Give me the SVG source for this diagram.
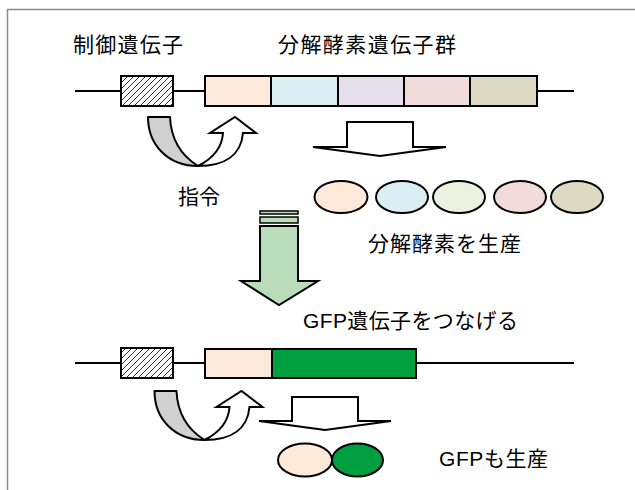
<svg xmlns="http://www.w3.org/2000/svg" width="635" height="490" viewBox="0 0 635 490">
<defs>
<pattern id="hatch" width="6" height="6" patternUnits="userSpaceOnUse">
<path d="M-1,1 L1,-1 M0,6 L6,0 M5,7 L7,5" stroke="#000" stroke-width="0.8"/>
</pattern>
<g id="curved">
<path d="M148,117 L170,117 C171,140 182,156 198,166 C168,166 148,145 148,117 Z" fill="#d0d0d0" stroke="#000" stroke-width="2" stroke-linejoin="round"/>
<path d="M198,166 C214,158 222,148 223,133 L210,133 L235,117 L256,133 L243,133 C241,155 225,166 198,166 Z" fill="#fff" stroke="#000" stroke-width="2" stroke-linejoin="miter"/>
</g>
</defs>
<style>
.t{font-family:"Liberation Sans","Noto Sans CJK JP",sans-serif;font-size:21px;fill:#000}
.ln{stroke:#000;stroke-width:2;fill:none}
.bx{stroke:#000;stroke-width:2}
.el{stroke:#000;stroke-width:2}
</style>
<rect width="635" height="490" fill="#fff"/>
<path d="M7.5,490 L7.5,9.5 L635,9.5" fill="none" stroke="#8c8c8c" stroke-width="1.5"/>

<g id="connectors">
<line class="ln" x1="75" y1="91" x2="121" y2="91"/>
<line class="ln" x1="173" y1="91" x2="205" y2="91"/>
<line class="ln" x1="537" y1="91" x2="574" y2="91"/>
<line class="ln" x1="75" y1="363" x2="121" y2="363"/>
<line class="ln" x1="173" y1="363" x2="205" y2="363"/>
<line class="ln" x1="416" y1="363" x2="574" y2="363"/>
</g>

<g id="top-control-gene">
<rect class="bx" x="121" y="76" width="52" height="30" fill="url(#hatch)"/>
<text class="t" x="73" y="52" textLength="110" lengthAdjust="spacing">制御遺伝子</text>
</g>
<g id="top-enzyme-genes">
<rect class="bx" x="205" y="76" width="66" height="30" fill="#fde9d9"/>
<rect class="bx" x="271" y="76" width="67" height="30" fill="#daeef3"/>
<rect class="bx" x="338" y="76" width="66" height="30" fill="#e5e0ec"/>
<rect class="bx" x="404" y="76" width="66" height="30" fill="#f2dcdb"/>
<rect class="bx" x="470" y="76" width="67" height="30" fill="#ddd9c3"/>
<text class="t" x="278" y="52" textLength="178" lengthAdjust="spacing">分解酵素遺伝子群</text>
</g>
<g id="top-instruction">
<use href="#curved"/>
<text class="t" x="178" y="204" textLength="42" lengthAdjust="spacing">指令</text>
</g>
<g id="top-produce-arrow">
<path d="M347,122 L413,122 L413,147 L446,147 L380,156 L313,147 L347,147 Z" fill="#fff" stroke="#000" stroke-width="2"/>
</g>
<g id="top-enzymes">
<ellipse class="el" cx="341" cy="197" rx="26.5" ry="16" fill="#fde9d9"/>
<ellipse class="el" cx="402" cy="197" rx="26" ry="16" fill="#daeef3"/>
<ellipse class="el" cx="459" cy="197" rx="26" ry="16" fill="#ebf1de"/>
<ellipse class="el" cx="520" cy="197" rx="26" ry="16" fill="#f2dcdb"/>
<ellipse class="el" cx="577" cy="197" rx="26" ry="16" fill="#ddd9c3"/>
<text class="t" x="368" y="251" textLength="153" lengthAdjust="spacing">分解酵素を生産</text>
</g>
<g id="green-arrow">
<rect x="260" y="211" width="38" height="3" fill="#b9dcbb" stroke="#000" stroke-width="1.5"/>
<rect x="260" y="217" width="38" height="6" fill="#b9dcbb" stroke="#000" stroke-width="1.5"/>
<path d="M260,226 L298,226 L298,281 L318,281 L279,305 L241,281 L260,281 Z" fill="#b9dcbb" stroke="#000" stroke-width="2"/>
<text class="t" x="303" y="328" textLength="215" lengthAdjust="spacing">GFP遺伝子をつなげる</text>
</g>
<g id="bottom-control-gene">
<rect class="bx" x="121" y="348" width="52" height="30" fill="url(#hatch)"/>
</g>
<g id="bottom-genes">
<rect class="bx" x="205" y="349" width="67" height="29" fill="#fde9d9"/>
<rect class="bx" x="272" y="349" width="144" height="29" fill="#00a040"/>
</g>
<g id="bottom-instruction">
<use href="#curved" transform="translate(6.5,274)"/>
</g>
<g id="bottom-produce-arrow">
<path d="M292,397 L358,397 L358,421 L391,421 L325,430 L259,421 L292,421 Z" fill="#fff" stroke="#000" stroke-width="2"/>
</g>
<g id="bottom-proteins">
<ellipse class="el" cx="305" cy="460" rx="27" ry="16.5" fill="#fde9d9"/>
<ellipse class="el" cx="357.5" cy="460" rx="25.5" ry="16.5" fill="#00a040"/>
<text class="t" x="439" y="466" textLength="109" lengthAdjust="spacing">GFPも生産</text>
</g>
</svg>
